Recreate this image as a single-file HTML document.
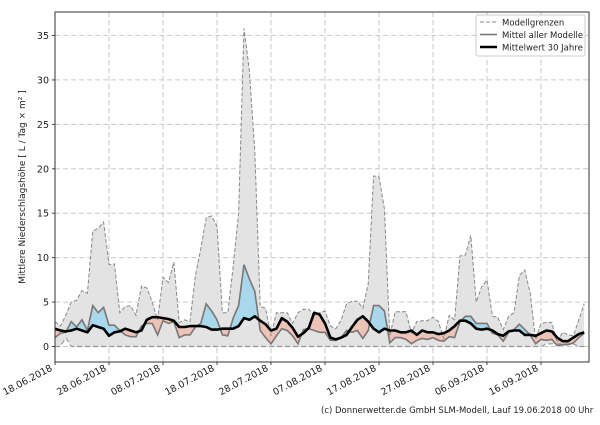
<!DOCTYPE html>
<html><head><meta charset="utf-8"><style>
body{margin:0;background:#fff;width:600px;height:420px;overflow:hidden}
svg{font-family:"DejaVu Sans","Liberation Sans",sans-serif}
</style></head><body>
<svg id="s" width="600" height="420" xmlns="http://www.w3.org/2000/svg"></svg>
<script>
const L=55,R=589,T=12,B=362,y0=346.5,ky=8.886,kx=5.4;
const X=d=>L+kx*d, Y=v=>y0-ky*v;
const up=[2.8,2.3,3.5,5,5.2,6.3,6,13,13.3,14,9.2,9.3,3.8,4.5,4.6,3.5,6.8,6.6,5,3,7.8,7.2,9.5,2.7,3,2.8,8,11,14.5,14.7,13.5,3.8,3.8,9,15,35.8,31,22,4.5,4.3,1.2,3.8,3.8,3.8,2.6,3.8,4.2,4.2,3.5,3.8,4.0,2.3,2,3,4.8,5.1,5.1,4.3,7,19.2,19.1,15.5,1.2,3.9,3.9,3.9,1.5,2.8,2.9,2.9,3.3,2.8,0.9,3.5,3,10.2,10.3,12.5,5,6.7,7.5,3.4,3.3,1.9,3.4,3.8,8,8.6,6,0.8,2.6,2.7,2.7,0.5,1.6,1.3,1.2,3,4.8];
const mn=[1.0,1.5,1.6,2.8,2.2,3.0,1.8,4.6,3.8,4.4,2.4,2.4,1.8,1.3,1.1,1.1,2.3,2.6,2.6,1.3,2.9,2.6,2.8,1.0,1.3,1.3,2.2,2.6,4.8,4.0,3.0,1.3,1.2,3.2,4.6,9.2,7.6,6.2,1.8,1.0,0.3,1.2,2.0,1.8,1.2,0.3,1.9,2.0,1.8,1.6,1.6,0.7,0.7,1.0,1.8,1.6,1.8,0.9,1.8,4.6,4.6,4.0,0.4,1.0,1.0,0.8,0.3,0.7,0.9,0.8,1.0,0.7,0.6,1.1,1.0,2.8,3.4,3.4,2.6,2.6,2.6,1.5,1.3,0.6,1.6,1.9,2.5,1.9,1.3,0.3,0.8,0.7,0.8,0.1,0.2,0.2,0.4,1.0,1.5];
const cl=[2.0,1.8,1.7,1.8,2.0,1.8,1.6,2.4,2.2,2.0,1.2,1.6,1.7,2.0,1.8,1.6,1.8,3.0,3.3,3.3,3.2,3.1,2.9,2.2,2.2,2.3,2.3,2.3,2.2,1.9,1.9,2.0,2.0,2.0,2.3,3.2,3.0,3.4,2.9,2.5,1.8,2.0,3.2,2.8,2.1,1.1,1.5,2.1,3.8,3.6,2.6,1.0,0.8,1.0,1.3,2.2,3.0,3.4,2.8,2.0,1.6,2.0,1.8,1.8,1.6,1.6,1.8,1.3,1.8,1.6,1.6,1.4,1.5,1.8,2.3,2.9,2.9,2.6,2.0,1.9,2.0,1.8,1.4,1.2,1.7,1.8,1.8,1.3,1.3,1.2,1.5,1.8,1.7,1.0,0.6,0.6,1.0,1.4,1.6];
const lo=up.map((_,i)=>i==2?1.0:(i>=91&&i<=96?0.3:0));
const pts=a=>a.map((v,i)=>X(i).toFixed(1)+","+Y(v).toFixed(1)).join(" ");
const rev=a=>a.map((v,i)=>[i,v]).reverse().map(p=>X(p[0]).toFixed(1)+","+Y(p[1]).toFixed(1)).join(" ");
const n=up.length-1;
let h='<defs><clipPath id="pa"><rect x="'+L+'" y="'+T+'" width="'+(R-L)+'" height="'+(B-T)+'"/></clipPath>';
h+='<clipPath id="aboveCl"><polygon points="'+pts(cl)+' '+X(n)+','+T+' '+L+','+T+'"/></clipPath>';
h+='<clipPath id="aboveMn"><polygon points="'+pts(mn)+' '+X(n)+','+T+' '+L+','+T+'"/></clipPath></defs>';
let g='';
for(let v=0;v<=35;v+=5){g+='<line x1="'+L+'" x2="'+R+'" y1="'+Y(v)+'" y2="'+Y(v)+'" stroke="#c8c8c8" stroke-dasharray="5,3"/>';
 h+='<text x="'+(L-6)+'" y="'+(Y(v)+3.5)+'" font-size="9.5" text-anchor="end" fill="#222">'+v+'</text>';}
const labs=["18.06.2018","28.06.2018","08.07.2018","18.07.2018","28.07.2018","07.08.2018","17.08.2018","27.08.2018","06.09.2018","16.09.2018"];
labs.forEach((t,i)=>{const x=X(i*10);
 if(i>0)g+='<line x1="'+x+'" x2="'+x+'" y1="'+T+'" y2="'+B+'" stroke="#c8c8c8" stroke-dasharray="5,3"/>';
 h+='<line x1="'+x+'" x2="'+x+'" y1="'+B+'" y2="'+(B+3)+'" stroke="#444"/>';
 h+='<text transform="translate('+(x-2)+','+(B+8)+') rotate(-28)" font-size="9.5" text-anchor="end" fill="#222">'+t+'</text>';});
h+=g;
h+='<g clip-path="url(#pa)">';
h+='<polygon points="'+pts(up)+' '+rev(lo)+'" fill="#e3e3e3"/>';
h+='<polygon points="'+pts(mn)+' '+rev(cl)+'" fill="#a9d8ec" clip-path="url(#aboveCl)"/>';
h+='<polygon points="'+pts(cl)+' '+rev(mn)+'" fill="#eec3b7" clip-path="url(#aboveMn)"/>';
h+='<polyline points="'+pts(up)+'" fill="none" stroke="#888" stroke-width="1" stroke-dasharray="4,2"/>';
h+='<polyline points="'+pts(lo)+'" fill="none" stroke="#999" stroke-width="1.2" stroke-dasharray="5,3"/>';
h+='<polyline points="'+pts(mn)+'" fill="none" stroke="#777" stroke-width="1.6"/>';
h+='<polyline points="'+pts(cl)+'" fill="none" stroke="#000" stroke-width="2.6" stroke-linejoin="round"/>';
h+='</g>';
h+='<rect x="'+L+'" y="'+T+'" width="'+(R-L)+'" height="'+(B-T)+'" fill="none" stroke="#333" stroke-width="1"/>';
for(let v=0;v<=35;v+=5)h+='<line x1="'+(L-3)+'" x2="'+L+'" y1="'+Y(v)+'" y2="'+Y(v)+'" stroke="#444"/>';
h+='<rect x="476" y="15" width="109" height="41" fill="#fff" stroke="#ccc" rx="2"/>';
h+='<line x1="480" x2="497" y1="22" y2="22" stroke="#888" stroke-dasharray="4,2"/><text x="502" y="25.5" font-size="8.5" fill="#222">Modellgrenzen</text>';
h+='<line x1="480" x2="497" y1="34.5" y2="34.5" stroke="#777" stroke-width="1.6"/><text x="502" y="38" font-size="8.5" fill="#222">Mittel aller Modelle</text>';
h+='<line x1="480" x2="497" y1="47" y2="47" stroke="#000" stroke-width="2.6"/><text x="502" y="50.5" font-size="8.5" fill="#222">Mittelwert 30 Jahre</text>';
h+='<text transform="translate(25,187) rotate(-90)" font-size="9" text-anchor="middle" fill="#222">Mittlere Niederschlagshöhe [ L / Tag × m² ]</text>';
h+='<text x="321" y="413" font-size="8.5" fill="#222">(c) Donnerwetter.de GmbH SLM-Modell, Lauf 19.06.2018 00 Uhr</text>';
document.getElementById('s').innerHTML=h;
</script>
</body></html>
